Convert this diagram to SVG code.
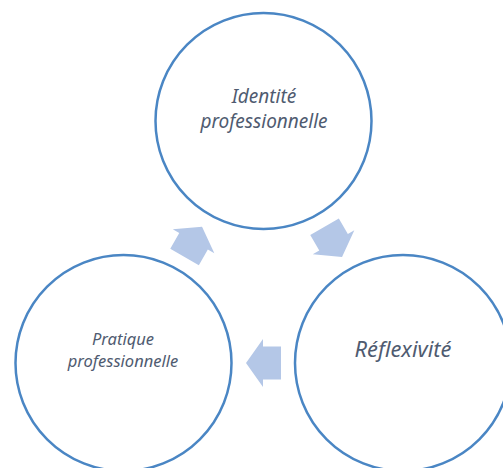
<svg xmlns="http://www.w3.org/2000/svg" xmlns:xlink="http://www.w3.org/1999/xlink" width="503" height="468" viewBox="0 0 503 468">
<style>
.node{fill:#ffffff;stroke:#4a86c4;stroke-width:2.5}
.lbl{font-family:"Noto Sans","Open Sans",sans-serif;font-style:italic;fill:#4f5b70;text-anchor:middle}
.arr{fill:#b4c7e7}
</style>
<defs>
<polygon id="arrow" class="arr" points="-17.5,0 -0.5,-24 -0.5,-16.5 17.5,-16.5 17.5,16.5 -0.5,16.5 -0.5,24"/>
</defs>
<rect width="503" height="468" fill="#ffffff"/>
<g id="connectors">
<use xlink:href="#arrow" transform="translate(333.3,241.8) rotate(-120)"/>
<use xlink:href="#arrow" transform="translate(263.5,363)"/>
<use xlink:href="#arrow" transform="translate(193.3,241.8) rotate(120)"/>
</g>
<g id="identite">
<circle class="node" cx="263.5" cy="121" r="108"/>
<text class="lbl" x="264" y="103" font-size="19">Identité</text>
<text class="lbl" x="264" y="128" font-size="19">professionnelle</text>
</g>
<g id="reflexivite">
<circle class="node" cx="403" cy="363" r="108"/>
<text class="lbl" x="403" y="357" font-size="21.8">Réflexivité</text>
</g>
<g id="pratique">
<circle class="node" cx="123.5" cy="363" r="108"/>
<text class="lbl" x="123" y="345" font-size="16.5">Pratique</text>
<text class="lbl" x="123" y="367" font-size="16.5">professionnelle</text>
</g>
</svg>
